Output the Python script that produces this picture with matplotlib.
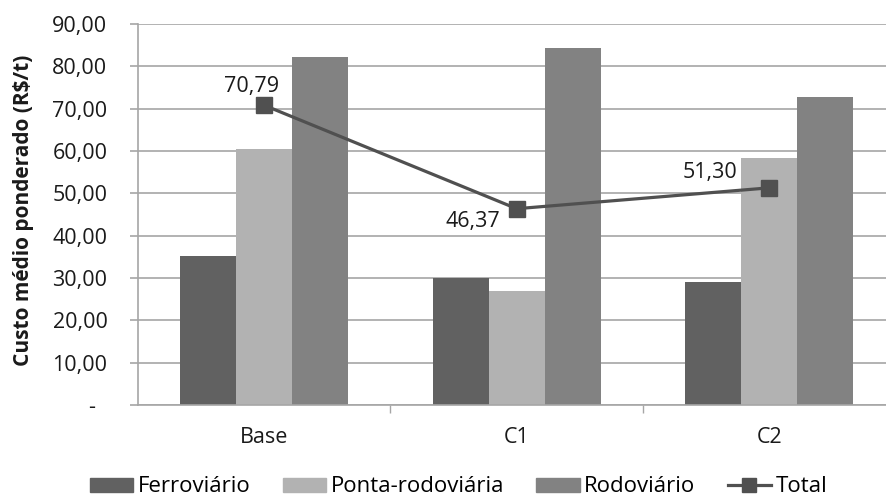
import matplotlib
matplotlib.use("Agg")
import matplotlib.pyplot as plt
import numpy as np
from matplotlib.lines import Line2D
from matplotlib.patches import Patch

categories = ["Base", "C1", "C2"]
ferroviario = [35.3, 29.9, 29.1]
ponta_rodoviaria = [60.4, 26.9, 58.3]
rodoviario = [82.1, 84.3, 72.7]
total = [70.79, 46.37, 51.30]
total_labels = ["70,79", "46,37", "51,30"]
yticks = [0, 10, 20, 30, 40, 50, 60, 70, 80, 90]
ytick_labels = ["-  ", "10,00", "20,00", "30,00", "40,00", "50,00", "60,00", "70,00", "80,00", "90,00"]

plt.rcParams['font.family'] = ['Open Sans', 'Noto Sans', 'DejaVu Sans']
FS = 15.5
TXT = "#1a1a1a"

W, H = 887, 498
fig = plt.figure(figsize=(W / 100, H / 100), dpi=100)
left, right, top, bottom = 138, 895.5, 24, 405
ax = fig.add_axes([left / W, 1 - bottom / H, (right - left) / W, (bottom - top) / H])

x = np.arange(len(categories))
bw = 0.222
c_f, c_p, c_r, c_t = "#616161", "#b2b2b2", "#828282", "#505050"
ax.bar(x - bw, ferroviario, bw, color=c_f, zorder=2)
ax.bar(x, ponta_rodoviaria, bw, color=c_p, zorder=2)
ax.bar(x + bw, rodoviario, bw, color=c_r, zorder=2)
ax.plot(x, total, color=c_t, lw=2.3, marker="s", ms=11, zorder=3)

offsets = [(-13, 19), (-44, -13), (-59, 15)]
for xi, yi, lab, (dx, dy) in zip(x, total, total_labels, offsets):
    ax.annotate(lab, (xi, yi), xytext=(dx * 0.72, dy * 0.72), textcoords="offset points",
                ha="center", va="center", fontsize=FS, color=TXT, zorder=4)

ax.set_xlim(-0.5, 2.5)
ax.set_ylim(0, 90)
ax.set_yticks(yticks)
ax.set_yticklabels(ytick_labels)
ax.yaxis.grid(True, color="#a6a6a6", lw=1.2, zorder=0)
ax.set_axisbelow(True)
ax.set_xticks(x)
ax.set_xticklabels(categories)
ax.set_xticks([0.5, 1.5], minor=True)
ax.tick_params(axis="x", which="major", length=0, pad=16, labelsize=FS, labelcolor=TXT)
ax.tick_params(axis="x", which="minor", length=6, width=1, color="#a6a6a6", direction="out")
ax.tick_params(axis="y", length=6, width=1.2, color="#a6a6a6", pad=16, labelsize=FS, labelcolor=TXT)
for s in ["top", "right"]:
    ax.spines[s].set_visible(False)
for s in ["left", "bottom"]:
    ax.spines[s].set_color("#a6a6a6")
    ax.spines[s].set_linewidth(1.2)

fig.text(24 / W, 1 - 210 / H, "Custo médio ponderado (R$/t)", rotation=90, ha="center", va="center",
         fontsize=15, fontweight="bold", color=TXT)

handles = [Patch(color=c_f), Patch(color=c_p), Patch(color=c_r),
           Line2D([], [], color=c_t, lw=2.3, marker="s", ms=10)]
labels = ["Ferroviário", "Ponta-rodoviária", "Rodoviário", "Total"]
fig.legend(handles, labels, loc="center left", bbox_to_anchor=(90 / W, 1 - 487 / H), ncol=4,
           frameon=False, fontsize=16, handlelength=1.95, handleheight=0.6, handletextpad=0.2,
           columnspacing=1.45, borderaxespad=0, borderpad=0)

fig.savefig("out.png", dpi=100)
